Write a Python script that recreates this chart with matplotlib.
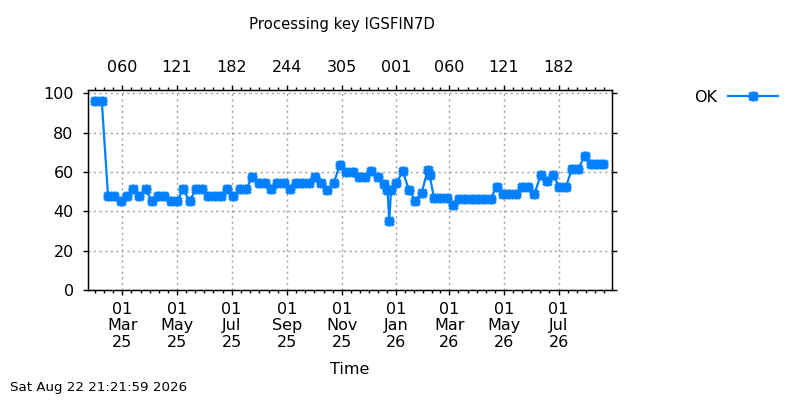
import matplotlib
matplotlib.use("Agg")
import matplotlib.pyplot as plt
import matplotlib.dates as mdates
import numpy as np
from matplotlib.lines import Line2D

dates = [
    "2025-01-30", "2025-02-06", "2025-02-13", "2025-02-20", "2025-02-27",
    "2025-03-06", "2025-03-13", "2025-03-20", "2025-03-27", "2025-04-03",
    "2025-04-10", "2025-04-17", "2025-04-24", "2025-05-01", "2025-05-08",
    "2025-05-15", "2025-05-22", "2025-05-29", "2025-06-05", "2025-06-12",
    "2025-06-19", "2025-06-26", "2025-07-03", "2025-07-10", "2025-07-17",
    "2025-07-24", "2025-07-31", "2025-08-07", "2025-08-14", "2025-08-21",
    "2025-08-28", "2025-09-04", "2025-09-11", "2025-09-18", "2025-09-25",
    "2025-10-02", "2025-10-09", "2025-10-16", "2025-10-23", "2025-10-30",
    "2025-11-06", "2025-11-13", "2025-11-20", "2025-11-27", "2025-12-04",
    "2025-12-11", "2025-12-18", "2025-12-22", "2025-12-24", "2025-12-26",
    "2026-01-01", "2026-01-08", "2026-01-15", "2026-01-22", "2026-01-29",
    "2026-02-05", "2026-02-07", "2026-02-12", "2026-02-19", "2026-02-26",
    "2026-03-05", "2026-03-12", "2026-03-19", "2026-03-26", "2026-04-02",
    "2026-04-09", "2026-04-16", "2026-04-23", "2026-04-30", "2026-05-07",
    "2026-05-14", "2026-05-21", "2026-05-28", "2026-06-04", "2026-06-11",
    "2026-06-18", "2026-06-25", "2026-07-02", "2026-07-09", "2026-07-16",
    "2026-07-23", "2026-07-30", "2026-08-06", "2026-08-13", "2026-08-20",
]
ok_values = [
    96.3, 96.3, 47.9, 47.9, 45.1, 47.9, 51.3, 47.9, 51.3, 45.1,
    47.9, 47.9, 45.1, 45.1, 51.3, 45.1, 51.3, 51.3, 47.9, 47.9,
    47.9, 51.3, 47.9, 51.3, 51.3, 57.4, 54.5, 54.5, 51.3, 54.5,
    54.5, 51.3, 54.5, 54.5, 54.5, 57.4, 54.5, 51.0, 54.5, 63.8,
    60.0, 60.0, 57.3, 57.3, 60.3, 57.3, 54.0, 51.0, 35.2, 51.0,
    54.4, 60.3, 50.9, 45.5, 49.2, 61.2, 58.3, 46.7, 46.7, 46.7,
    43.2, 46.5, 46.5, 46.5, 46.5, 46.5, 46.5, 52.3, 48.9, 48.9,
    48.9, 52.3, 52.3, 48.9, 58.3, 55.2, 58.3, 52.3, 52.3, 61.7,
    61.7, 68.0, 64.3, 64.3, 64.3,
]
major_dates = ["2025-03-01", "2025-05-01", "2025-07-01", "2025-09-01", "2025-11-01",
               "2026-01-01", "2026-03-01", "2026-05-01", "2026-07-01"]
bottom_labels = ["01\nMar\n25", "01\nMay\n25", "01\nJul\n25", "01\nSep\n25", "01\nNov\n25",
                 "01\nJan\n26", "01\nMar\n26", "01\nMay\n26", "01\nJul\n26"]
top_labels = ["060", "121", "182", "244", "305", "001", "060", "121", "182"]
yticks = [0, 20, 40, 60, 80, 100]
title = "Processing key IGSFIN7D"
stamp = "Sat Aug 22 21:21:59 2026"
x_range = ["2025-01-22", "2026-08-30"]

color = "#0080ff"
FS = 11.5

x = mdates.date2num(np.array(dates, dtype="datetime64[D]"))
majors = mdates.date2num(np.array(major_dates, dtype="datetime64[D]"))
xr = mdates.date2num(np.array(x_range, dtype="datetime64[D]"))

# minor ticks: six subdivisions per major interval
minors = []
step0 = (majors[1] - majors[0]) / 6
for k in range(1, 4):
    minors.append(majors[0] - k * step0)
for a, b in zip(majors[:-1], majors[1:]):
    st = (b - a) / 6
    for k in range(1, 6):
        minors.append(a + k * st)
for k in range(1, 6):
    minors.append(majors[-1] + k * step0)
minors = [m for m in minors if xr[0] <= m <= xr[1]]

fig = plt.figure(figsize=(8, 4), dpi=100)
ax = fig.add_axes([0.1104, 0.275, 0.655, 0.50125])

ax.plot(x, ok_values, color=color, lw=1.6, zorder=3)
ax.plot(x, ok_values, color=color, lw=0, marker="+", ms=7, mew=2.4, zorder=4)
ax.plot(x, ok_values, color=color, lw=0, marker="x", ms=6, mew=2.4, zorder=4)

ax.set_xlim(xr[0], xr[1])
ax.set_ylim(0, 102)
ax.set_xticks(majors)
ax.set_xticklabels(bottom_labels, fontsize=FS, linespacing=1.13)
ax.set_xticks(minors, minor=True)
ax.set_yticks(yticks)
ax.set_yticklabels([str(v) for v in yticks], fontsize=FS)
ax.yaxis.set_ticks_position("both")
ax.tick_params(axis="both", which="major", direction="out", length=3.5, width=1, pad=5)
ax.tick_params(axis="y", which="major", pad=7)
ax.tick_params(axis="x", which="minor", direction="out", length=2, width=1)
ax.grid(True, which="major", color="#a0a0a0", lw=1, linestyle=(0, (1.5, 2.5)))
for s in ax.spines.values():
    s.set_linewidth(1)
    s.set_color("black")

ax2 = ax.twiny()
ax2.set_xlim(xr[0], xr[1])
ax2.set_xticks(majors)
ax2.set_xticklabels(top_labels, fontsize=FS)
ax2.set_xticks(minors, minor=True)
ax2.tick_params(axis="x", which="major", direction="out", length=3.5, width=1, pad=7)
ax2.tick_params(axis="x", which="minor", direction="out", length=2, width=1)

fig.text(342 / 800, 0.94, title, ha="center", va="center", fontsize=10.7)
fig.text(0.4375, 0.075, "Time", ha="center", va="center", fontsize=FS)
fig.text(10 / 800, 0.03, stamp, ha="left", va="center", fontsize=9.6)

h1 = Line2D([0], [0], color=color, lw=1.6, marker="+", ms=7, mew=2.4)
h2 = Line2D([0], [0], color=color, lw=0, marker="x", ms=6, mew=2.4)
fig.legend([(h1, h2)], ["OK"], loc="upper right", bbox_to_anchor=(778 / 800, 1 - 90 / 400),
           frameon=False, markerfirst=False, fontsize=FS, handlelength=3.1,
           handletextpad=0.7, borderpad=0, borderaxespad=0, numpoints=1)

fig.savefig("out.png", dpi=100)
